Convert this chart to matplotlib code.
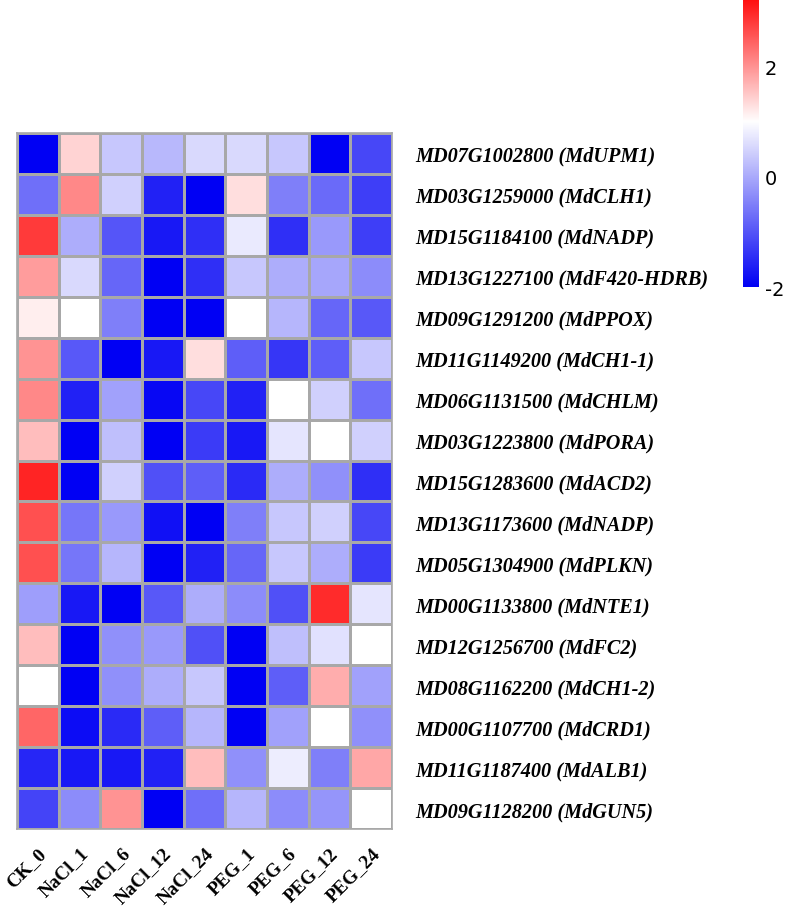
import matplotlib
matplotlib.use("Agg")
import matplotlib.pyplot as plt
import numpy as np
from matplotlib.colors import LinearSegmentedColormap, Normalize

samples = ["CK_0", "NaCl_1", "NaCl_6", "NaCl_12", "NaCl_24",
           "PEG_1", "PEG_6", "PEG_12", "PEG_24"]
genes = ["MD07G1002800 (MdUPM1)", "MD03G1259000 (MdCLH1)", "MD15G1184100 (MdNADP)",
         "MD13G1227100 (MdF420-HDRB)", "MD09G1291200 (MdPPOX)", "MD11G1149200 (MdCH1-1)",
         "MD06G1131500 (MdCHLM)", "MD03G1223800 (MdPORA)", "MD15G1283600 (MdACD2)",
         "MD13G1173600 (MdNADP)", "MD05G1304900 (MdPLKN)", "MD00G1133800 (MdNTE1)",
         "MD12G1256700 (MdFC2)", "MD08G1162200 (MdCH1-2)", "MD00G1107700 (MdCRD1)",
         "MD11G1187400 (MdALB1)", "MD09G1128200 (MdGUN5)"]

values = np.array([
    [-2.0, 1.4, 0.35, 0.16, 0.55, 0.55, 0.35, -2.0, -1.15],
    [-0.7, 2.1, 0.45, -1.6, -2.0, 1.3, -0.5, -0.75, -1.25],
    [2.8, 0.05, -1.0, -1.7, -1.45, 0.75, -1.45, -0.2, -1.25],
    [1.9, 0.55, -0.8, -2.0, -1.45, 0.35, 0.05, -0.05, -0.35],
    [1.15, 1.0, -0.5, -2.0, -2.0, 1.0, 0.15, -0.8, -0.95],
    [2.0, -0.95, -2.0, -1.7, 1.3, -0.9, -1.35, -0.9, 0.35],
    [2.1, -1.6, -0.1, -1.9, -1.15, -1.6, 1.0, 0.45, -0.7],
    [1.6, -2.0, 0.25, -2.0, -1.3, -1.7, 0.7, 1.0, 0.45],
    [3.0, -2.0, 0.45, -1.05, -0.9, -1.5, 0.05, -0.3, -1.45],
    [2.6, -0.6, -0.2, -1.8, -2.0, -0.5, 0.35, 0.45, -1.15],
    [2.6, -0.6, 0.15, -2.0, -1.6, -0.8, 0.35, 0.05, -1.3],
    [-0.15, -1.7, -2.0, -0.95, 0.05, -0.35, -1.05, 2.95, 0.7],
    [1.6, -2.0, -0.3, -0.2, -1.05, -2.0, 0.25, 0.65, 1.0],
    [1.0, -2.0, -0.3, 0.05, 0.35, -2.0, -0.9, 1.75, -0.1],
    [2.4, -1.85, -1.5, -0.9, 0.15, -2.0, -0.1, 1.0, -0.3],
    [-1.55, -1.7, -1.7, -1.6, 1.6, -0.3, 0.8, -0.5, 1.8],
    [-1.2, -0.35, 2.0, -2.0, -0.7, 0.15, -0.35, -0.25, 1.0],
])

vmin, vmax, vwhite = -2.0, 3.2, 1.0
wpos = (vwhite - vmin) / (vmax - vmin)
cmap = LinearSegmentedColormap.from_list(
    "bwr_custom", [(0.0, "#0000f4"), (wpos, "#ffffff"), (1.0, "#ff1010")])
norm = Normalize(vmin=vmin, vmax=vmax)

W, H = 787, 912
fig = plt.figure(figsize=(W / 100, H / 100), dpi=100)

left, right, top, bottom = 17, 392, 134, 830
ax = fig.add_axes([left / W, 1 - bottom / H, (right - left) / W, (bottom - top) / H])
ax.pcolormesh(values, cmap=cmap, norm=norm, edgecolors="#a8a8a8", linewidth=1.0)
ax.set_xlim(0, len(samples))
ax.set_ylim(len(genes), 0)
for s in ax.spines.values():
    s.set_color("#a8a8a8")
    s.set_linewidth(1.2)

ax.set_xticks(np.arange(len(samples)) + 0.5)
ax.set_xticklabels(samples, rotation=45, ha="right", va="top", rotation_mode="anchor",
                   fontfamily="Liberation Serif", fontweight="bold", fontsize=13.8)
ax.tick_params(axis="x", length=0, pad=11)
ax.yaxis.tick_right()
ax.set_yticks(np.arange(len(genes)) + 0.5)
ax.set_yticklabels(genes, fontfamily="Liberation Serif", fontweight="bold",
                   fontstyle="italic", fontsize=14.6)
ax.tick_params(axis="y", length=0, pad=17)

cax = fig.add_axes([743 / W, 1 - 288 / H, 16 / W, 287 / H])
grad = np.linspace(vmin, vmax, 256).reshape(-1, 1)
cax.imshow(grad, aspect="auto", origin="lower", cmap=cmap, norm=norm,
           extent=[0, 1, vmin, vmax])
cax.set_xticks([])
cax.yaxis.tick_right()
cax.set_yticks([-2, 0, 2])
cax.set_yticklabels(["-2", "0", "2"], fontsize=14)
cax.tick_params(axis="y", length=0, pad=4)
for s in cax.spines.values():
    s.set_visible(False)

fig.savefig("out.png", dpi=100)
